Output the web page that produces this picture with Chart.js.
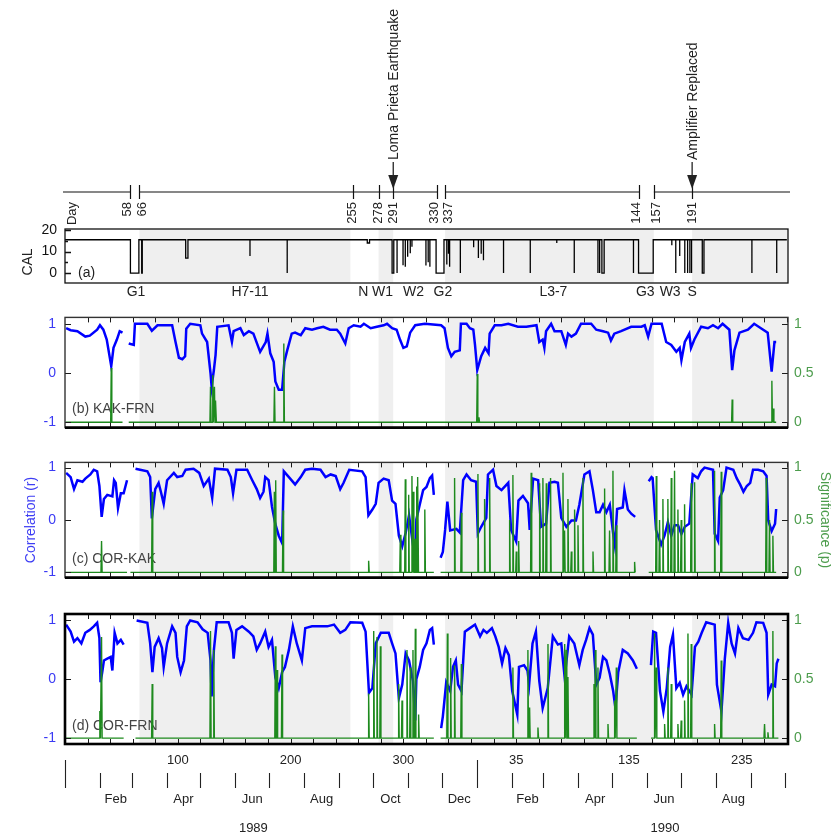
<!DOCTYPE html>
<html>
<head>
<meta charset="utf-8">
<script src="https://cdn.jsdelivr.net/npm/chart.js@4.4.1/dist/chart.umd.min.js"></script>
<style>
  body { margin: 0; background: #fff; }
  #wrap { position: relative; width: 831px; height: 836px; overflow: hidden; background: #fff; }
  canvas { position: absolute; left: 0; }
</style>
</head>
<body>
<div id="wrap">
  <canvas id="calChart" width="831" height="300" style="top:0px"></canvas>
  <canvas id="kakFrn" width="831" height="145" style="top:300px"></canvas>
  <canvas id="corKak" width="831" height="150" style="top:445px"></canvas>
  <canvas id="corFrn" width="831" height="241" style="top:595px"></canvas>
</div>
<script>
const FONT = "'Liberation Sans', Arial, Helvetica, sans-serif";

// days counted from 1 Jan 1989 (1990 days are offset by 365)
const lastDay = 641;

// shaded operating periods
const grayBands = [[66, 253], [278, 291], [337, 522], [556, 641]];

// top timeline
const markerDays = [58, 66, 255, 278, 291, 330, 337, 509, 522, 556];
const markerLabels = ['58', '66', '255', '278', '291', '330', '337', '144', '157', '191'];
const timelineBreaks = [[58, 66], [330, 337], [509, 522]];
const events = [[291, 'Loma Prieta Earthquake'], [556, 'Amplifier Replaced']];
const periodLabels = [['G1', 63], ['H7-11', 164], ['N', 264.5], ['W1', 281.5], ['W2', 309], ['G2', 335],
  ['L3-7', 433], ['G3', 514.5], ['W3', 536.5], ['S', 556]];

// (a) CAL: normal level and the dropouts [start, end, value]
const calBase = 15.5;
const calDrops = [[58, 65.5, 0], [68, 68.5, 0], [107, 109, 7], [164, 164, 8], [197, 197, 0], [268, 270, 14],
  [290, 291.5, 0], [294.4, 294.4, 0], [299.7, 299.7, 3.7], [301.7, 301.7, 2.9], [303.8, 303.8, 7.6],
  [306.1, 306.1, 9.2], [307.6, 307.6, 12.2], [320, 320, 3.5], [322, 322, 5], [323.5, 323.5, 3],
  [329, 336, 0], [338.5, 338.5, 4], [340, 340, 9], [341, 341, 3], [350.5, 350.5, 0], [362.3, 362.3, 12],
  [366.5, 366.5, 7], [369, 369, 9], [371, 371, 6], [388.8, 388.8, 0], [412.5, 412.5, 0], [436, 436, 14],
  [451.5, 451.5, 0], [472.5, 472.5, 0], [474, 474, 0], [476, 478, 0], [504, 504, 0], [508.5, 521.5, 0],
  [538, 538, 13], [541.5, 541.5, 0], [545, 545, 8], [549.5, 549.5, 0], [552, 552, 0], [554, 554, 0],
  [555.5, 555.5, 0], [565, 566.5, 0], [609, 609, 0], [631, 631, 0]];

// (b) KAK-FRN
const kakFrnR = [[1,0.91],[5,0.87],[11,0.85],[18,0.74],[22,0.76],[28.5,0.88],[31,0.97],[34,0.88],[37,0.68],[41,0.14],
  [43,0.51],[46,0.68],[48.5,0.85],[51,0.82],[53,null],
  [56.5,0.6],[61,0.57],[62,1.0],[73,1.0],[77,0.86],[82,0.97],[89,0.97],[95,0.97],[98,0.63],[101,0.31],[104,0.28],
  [106.5,0.34],[107.5,0.9],[111,1.0],[120,0.97],[121.5,0.8],[126,0.63],[129,0],[130,-0.28],[132,0.06],[133.5,0.37],
  [135,0.94],[145,0.97],[148,0.63],[149.5,0.85],[155.5,0.91],[158.5,0.77],[163,0.85],[167,0.8],[173,0.43],[178,0.63],
  [179.5,0.8],[182,0.4],[185,0.23],[186.5,-0.17],[189.5,-0.34],[192.5,-0.34],[194.5,0.23],[197,0.46],[201,0.8],
  [204,0.82],[209,0.77],[213,0.91],[219,0.88],[223.5,0.91],[229,0.94],[235,0.88],[241,0.88],[244,0.8],[248.5,0.6],
  [251.5,0.91],[256,0.97],[262,0.94],[265,1.0],[271,0.91],[276.5,0.94],[282.5,0.97],[285.5,1.0],[290,0.91],[294,0.88],
  [297,0.68],[300,0.51],[303,0.54],[306,0.82],[310.5,0.97],[319,1.0],[333.5,0.97],[336.5,0.91],[339.5,0.51],
  [342.5,0.34],[345.5,0.43],[350,0.46],[351,1.0],[356,1.0],[359,0.91],[362,0.88],[363.5,0.57],[365.5,0.06],[369,0.34],
  [372.5,0.51],[375.5,0.4],[376.5,0.8],[381,0.97],[387,0.97],[393,1.0],[401.5,0.94],[409,0.94],[418,0.97],[420.5,0.63],
  [423.5,0.68],[425,0.51],[426.5,0.85],[431,1.0],[434,0.85],[440,0.85],[444,0.57],[446,0.8],[449,0.74],[453,0.8],
  [457.5,1.0],[466.5,1.0],[471,0.88],[477,0.85],[481.5,0.82],[484,0.66],[487,0.8],[493,0.85],[502,0.94],[511,0.94],
  [514,0.97],[517,0.74],[520,1.0],[529,1.0],[533,0.63],[537.5,0.57],[542,0.43],[545,0.51],[546.5,0.26],[549.5,0.63],
  [553.5,0.8],[555,0.51],[558,0.68],[564,0.94],[570,0.91],[574.5,0.97],[579,0.91],[583,1.0],[589,0.88],[591.5,0.06],
  [593.5,0.46],[598,0.82],[605.5,0.88],[611,1.0],[617,0.91],[623,0.82],[626.5,0.03],[629,0.63],[630.5,0.63]];
const kakFrnRuns = [[0.5, 51], [56.5, 630.5]];
const kakFrnP = [[41,0.55],[129,0.36],[131,0.48],[132.5,0.36],[133.7,0.22],[185.7,0.36],[194,0.8],[365.5,0.49],
  [367,0.05],[591.5,0.23],[626.7,0.42],[628,0.14]];

// (c) COR-KAK
const corKakR = [[1,0.9],[5,0.82],[8,0.59],[11,0.76],[15.5,0.73],[18,0.79],[22.5,0.87],[25.5,0.96],[28.5,0.93],
  [30.5,0.65],[32.5,0.06],[34.5,0.4],[37.5,0.48],[42,0.45],[43.5,0.76],[45,0.71],[47,0.23],[49.5,0.51],[52,0.51],
  [55,0.76],[58,null],
  [62.5,0.98],[73,0.93],[75.5,0.82],[77,0.03],[80,0.59],[83,0.71],[85,0.54],[87.5,0.31],[90.5,0.76],[96.5,0.9],
  [99.5,0.82],[104,0.84],[107,0.96],[114,0.98],[119,0.9],[123,0.65],[127.5,0.79],[130.5,0.42],[133,0.98],[144,0.96],
  [147,0.82],[149,0.51],[152,0.96],[161.5,0.96],[166,0.76],[170,0.59],[173,0.42],[176,0.54],[177.5,0.82],[180.5,0.76],
  [183.5,0.25],[186.5,-0.08],[189.5,-0.3],[192.5,-0.44],[194,0.93],[198.5,0.82],[204,0.68],[209,0.82],[213,0.96],
  [219,0.98],[226.5,0.96],[231,0.82],[235.5,0.87],[240,0.84],[244,0.59],[247,0.71],[252,0.96],[263.5,0.93],
  [266.5,0.82],[269,0.09],[272.5,0.2],[275.5,0.31],[278,0.71],[282.5,0.79],[287,0.76],[290,0.37],[293,0.31],
  [296,-0.3],[299,-0.5],[302,-0.25],[305,0.09],[308.5,-0.47],[310.5,-0.72],[311.5,0.01],[314.5,0.29],[317.5,0.57],
  [320.5,0.63],[323.5,0.8],[325.5,0.85],[327,0.48],[330,null],
  [333,-0.72],[335,-0.61],[337,-0.19],[339,0.35],[341.5,-0.2],[347,-0.17],[350,-0.24],[353,0.76],[356,0.87],
  [360,0.76],[364.5,0.73],[366,-0.26],[369,-0.13],[373.5,0.04],[375,0.87],[379.5,0.96],[382.5,0.65],[387,0.57],
  [393,0.71],[395.5,-0.19],[400,-0.41],[402,0.37],[406,0.46],[410.5,0.32],[412,-0.19],[415,0.79],[419.5,0.76],
  [422,-0.13],[426.5,-0.07],[429.5,0.71],[434,0.73],[437,0.71],[440,0.04],[444.5,-0.13],[449,-0.01],[453,-0.01],
  [456,0.29],[460.5,0.87],[465,0.93],[468,0.57],[471,0.15],[474,0.15],[477,0.29],[480,0.15],[483,0.29],[486,-0.26],
  [487.5,-0.48],[489.5,0.21],[494.5,0.24],[496,0.57],[499,0.2],[502,0.12],[505.5,0.06],[511,null],
  [517.5,0.74],[520,0.82],[521,0.8],[524,-0.19],[528.5,-0.47],[531.5,-0.3],[534.5,-0.04],[537.5,-0.3],[540.5,-0.1],
  [543.5,-0.1],[546.5,-0.27],[549.5,-0.13],[553.5,-0.07],[556.5,0.87],[561,0.8],[564,0.93],[567,1.0],[574.5,0.96],
  [576,-0.26],[579,-0.4],[580.5,0.43],[583.5,0.57],[586.5,1.0],[592.5,0.96],[595.5,0.8],[598.5,0.68],[601.5,0.54],
  [604.5,0.65],[607.5,0.71],[610,0.96],[614.5,0.96],[619,0.93],[622,0.84],[623.5,-0.01],[626.5,-0.21],[629.5,-0.07],
  [630.5,0.21]];
const corKakRuns = [[0.5, 55], [58, 327], [333, 505.5], [517.5, 630.5]];
const corKakP = [[32.4,0.3],[77.3,0.77],[185.6,0.77],[186.8,0.88],[193.3,0.59],[269.2,0.11],[297.3,0.36],[301.7,0.89],
  [304.7,0.74],[307.6,0.92],[308.8,0.77],[310.6,0.32],[311.8,0.82],[312.9,0.91],[319,0.6],[345.4,0.9],[351.4,0.57],
  [366.1,0.94],[372,0.7],[376.5,0.9],[394.2,0.5],[397.1,0.93],[400.1,0.2],[402.2,0.3],[413.3,0.95],[420.8,0.85],
  [423.7,0.9],[426.7,0.85],[430.5,0.9],[441.5,0.95],[442.9,0.4],[445.9,0.7],[448.9,0.2],[451.8,0.6],[454.8,0.45],
  [459.2,0.9],[468.1,0.2],[478.4,0.8],[482.8,0.4],[485.8,0.97],[488.8,0.45],[505,0.1],[524.2,0.92],[527.1,0.5],
  [530.1,0.7],[534.5,0.7],[537.5,0.9],[540.4,0.97],[543.4,0.6],[546.3,0.5],[549.3,0.65],[555.2,0.85],[558.2,0.86],
  [575.9,0.97],[581.8,0.96],[621.7,0.9],[624.6,0.5],[627.6,0.35]];

// (d) COR-FRN
const corFrnR = [[1,0.93],[5,0.81],[8,0.64],[11,0.7],[14.5,0.61],[18,0.79],[22,0.84],[25.5,0.9],[28.5,0.96],[30.5,0.7],
  [31.5,-0.05],[33,0.12],[34.5,0.32],[37.5,0.35],[40.5,0.38],[42,0.15],[44,0.79],[46.5,0.61],[49.5,0.67],[52,0.59],
  [57,null],
  [63.5,1.0],[73,0.96],[75.5,0.61],[77.5,0.12],[79.5,0.55],[83,0.7],[86,0.53],[87.5,0.21],[90.5,0.61],[95,0.9],
  [98,0.79],[99.5,0.38],[102.5,0.12],[105.5,0.32],[108,0.9],[111,1.0],[117.5,0.97],[122,0.85],[126.5,0.79],[129,0.32],
  [130,-0.29],[132,0.5],[134.5,0.97],[145,0.97],[148,0.79],[149.5,0.35],[152,0.84],[157,0.9],[163,0.81],[167,0.73],
  [170,0.5],[173,0.61],[177.5,0.81],[180.5,0.55],[183.5,0.67],[186.5,0.03],[189.5,-0.15],[192.5,0.12],[195,0.21],
  [198.5,0.5],[202,0.9],[205.5,0.61],[210,0.32],[213,0.87],[219,0.9],[226.5,0.9],[232.5,0.9],[238.5,0.93],[244,0.79],
  [248.5,0.84],[253,0.97],[263.5,0.96],[266.5,0.81],[269.5,-0.23],[272.5,-0.15],[275.5,0.61],[280,0.79],[287,0.79],
  [290,0.61],[293,0.44],[296,-0.32],[299,-0.09],[302,0.44],[305,0.32],[308.5,-0.03],[310.5,-0.7],[311.5,0.0],
  [314.5,0.21],[317.5,0.5],[320.5,0.61],[323.5,0.84],[325.5,0.87],[327,0.59],[330,null],
  [333.5,-0.83],[335,-0.63],[338,-0.05],[341.5,-0.2],[344,0.21],[346.5,0.32],[348.5,-0.09],[351.5,-0.2],[354.5,0.81],
  [359,0.87],[363.5,0.93],[368,0.73],[371,0.84],[374,0.79],[378.5,0.87],[381.5,0.73],[384.5,0.55],[387.5,0.27],
  [390.5,0.53],[393.5,0.41],[396.5,-0.2],[401,-0.6],[402.5,0.21],[407,0.24],[410,0.15],[411.5,-0.09],[414.5,0.61],
  [417.5,0.81],[420.5,-0.03],[423.5,-0.49],[428,-0.15],[432.5,0.73],[437,0.59],[440,0.61],[443,0.03],[447,0.73],
  [451.5,0.61],[456,0.24],[459,0.5],[462,0.67],[465,0.87],[468,0.76],[471,-0.09],[474,0.03],[477,0.38],[480,0.32],
  [483,0.09],[486,-0.2],[488,-0.49],[490.5,0.12],[494.5,0.5],[499,0.44],[503.5,0.32],[507,0.18],[513,null],
  [519.5,0.24],[521.5,0.81],[524,0.79],[527.5,-0.2],[530.5,-0.55],[533.5,-0.15],[536.5,0.55],[539,0.76],[542,-0.15],
  [545,-0.06],[548,-0.26],[551,-0.12],[555.5,-0.26],[558.5,0.55],[561.5,0.64],[564.5,0.79],[568.5,0.97],[576,0.93],
  [578,-0.09],[582,-0.55],[585,0.35],[588,0.96],[591,0.61],[594,0.44],[597,0.87],[601,0.7],[606,0.67],[610,0.79],
  [613,0.97],[619,0.96],[622,0.79],[623.5,-0.26],[626.5,-0.09],[629.5,-0.12],[631,0.27],[632.5,0.35]];
const corFrnRuns = [[0.5, 52], [62.5, 327], [333, 507], [519.5, 632.5]];
const corFrnP = [[30.9,0.23],[32.4,0.86],[77.3,0.46],[129,0.91],[131.9,0.75],[186.5,0.78],[188,0.58],[192.4,0.71],
  [269.2,0.38],[273.7,0.91],[276.6,0.86],[279.6,0.78],[295.8,0.46],[298.8,0.32],[303.2,0.75],[306.1,0.6],[308.5,0.75],
  [310.6,0.93],[313.5,0.2],[339,0.89],[341.9,0.68],[345.4,0.62],[351.4,0.63],[397.1,0.6],[410.4,0.75],[411.9,0.26],
  [419.3,0.09],[428.2,0.8],[443,0.8],[444.4,0.75],[445.9,0.52],[469,0.46],[470.2,0.75],[472.5,0.6],[481.4,0.12],
  [487.3,0.32],[488.8,0.6],[522.7,0.89],[524.2,0.6],[531.6,0.12],[534.5,0.6],[537.5,0.46],[543.4,0.12],[546.3,0.15],
  [549.3,0.32],[552.3,0.89],[555.2,0.8],[575.9,0.12],[581.8,0.66],[620.2,0.12],[623.2,0.05],[627.6,0.91]];

// bottom time axis
const dayTicks = [100, 200, 300, 400, 500, 600];
const dayTickLabels = ['100', '200', '300', '35', '135', '235'];
const monthStarts = [0, 31, 59, 90, 120, 151, 181, 212, 243, 273, 304, 334, 365,
  396, 424, 455, 485, 516, 546, 577, 608, 638];
const yearStarts = [0, 365];
const monthLabels = ['Feb', 'Apr', 'Jun', 'Aug', 'Oct', 'Dec', 'Feb', 'Apr', 'Jun', 'Aug'];
const yearLabels = [['1989', 167], ['1990', 532]];

Chart.defaults.font.family = FONT;
Chart.defaults.font.size = 13;
Chart.defaults.animation = false;
Chart.defaults.plugins.legend.display = false;
Chart.defaults.plugins.tooltip.enabled = false;

// --- helpers to turn the value lists into line points ---
function seriesPoints(list) {
  return list.map(([d, v]) => ({ x: d, y: v }));
}

function spikePoints(runs, spikes) {
  const pts = [];
  runs.forEach(([s, e]) => {
    pts.push({ x: s, y: 0 });
    spikes.filter(k => k[0] > s && k[0] < e).forEach(([d, v]) => {
      pts.push({ x: d - 0.5, y: 0 }, { x: d, y: v }, { x: d + 0.5, y: 0 });
    });
    pts.push({ x: e, y: 0 }, { x: e, y: null });
  });
  return pts;
}

function calPoints() {
  const pts = [{ x: 0, y: calBase }];
  calDrops.forEach(([s, e, v]) => {
    pts.push({ x: s, y: calBase }, { x: s, y: v }, { x: e, y: v }, { x: e, y: calBase });
  });
  pts.push({ x: lastDay - 1, y: calBase });
  return pts;
}

function vText(ctx, text, x, y, angle, align, baseline) {
  ctx.save();
  ctx.translate(x, y);
  ctx.rotate(angle);
  ctx.textAlign = align;
  ctx.textBaseline = baseline;
  ctx.fillText(text, 0, 0);
  ctx.restore();
}

function fixedTicks(values) {
  return s => { s.ticks = values.map(v => ({ value: v })); };
}

// light grey background bands in every plot area
Chart.register({
  id: 'bands',
  beforeDatasetsDraw(chart) {
    const { ctx, chartArea: a, scales: { x } } = chart;
    ctx.save();
    ctx.fillStyle = '#efefef';
    grayBands.forEach(([s, e]) => {
      const x0 = Math.max(a.left, x.getPixelForValue(s));
      const x1 = Math.min(a.right, x.getPixelForValue(e));
      ctx.fillRect(x0, a.top, x1 - x0, a.bottom - a.top);
    });
    ctx.restore();
  }
});

const xScale = { type: 'linear', min: 0, max: lastDay, display: false };

// ---------- (a) CAL with the event timeline above it ----------
new Chart(document.getElementById('calChart'), {
  type: 'line',
  data: {
    datasets: [{
      data: calPoints(),
      borderColor: '#000',
      borderWidth: 1.3,
      pointRadius: 0,
      tension: 0
    }]
  },
  options: {
    responsive: false,
    layout: { padding: { top: 229, bottom: 17, left: 0, right: 43 } },
    scales: {
      x: xScale,
      y: {
        min: -4.6, max: 20.5,
        afterBuildTicks: fixedTicks([0, 10, 20]),
        afterFit: s => { s.width = 65; },
        grid: { display: false, drawTicks: false },
        border: { display: false },
        ticks: { color: '#111', padding: 8, font: { size: 14 }, callback: v => String(v) }
      }
    }
  },
  plugins: [{
    id: 'calDecor',
    afterDatasetsDraw(chart) {
      const { ctx, chartArea: a, scales: { x, y } } = chart;
      const px = d => x.getPixelForValue(d);
      ctx.save();
      ctx.strokeStyle = '#111';
      ctx.lineWidth = 1.3;
      ctx.strokeRect(a.left, a.top, a.right - a.left, a.bottom - a.top);

      ctx.beginPath();
      [0, 5, 10, 15, 20].forEach(v => {
        const py = Math.round(y.getPixelForValue(v)) + 0.5;
        ctx.moveTo(a.left, py);
        ctx.lineTo(a.left + (v % 10 === 0 ? 6 : 3), py);
      });
      ctx.stroke();

      // timeline with axis breaks
      const tlY = 192;
      ctx.lineWidth = 1.2;
      ctx.beginPath();
      let from = a.left - 2;
      timelineBreaks.forEach(([s, e]) => {
        ctx.moveTo(from, tlY); ctx.lineTo(px(s), tlY);
        from = px(e);
      });
      ctx.moveTo(from, tlY); ctx.lineTo(a.right + 2, tlY);
      markerDays.forEach(d => {
        ctx.moveTo(Math.round(px(d)) + 0.5, tlY - 7);
        ctx.lineTo(Math.round(px(d)) + 0.5, tlY + 7);
      });
      ctx.stroke();

      ctx.fillStyle = '#222';
      ctx.font = '13px ' + FONT;
      markerDays.forEach((d, i) => {
        let off = 0;
        timelineBreaks.forEach(([s, e]) => { if (d === s) off = -3; if (d === e) off = 3; });
        vText(ctx, markerLabels[i], px(d) + off, 202, -Math.PI / 2, 'right', 'middle');
      });
      vText(ctx, 'Day', 72, 202, -Math.PI / 2, 'right', 'middle');

      // event arrows
      ctx.font = '14px ' + FONT;
      events.forEach(([d, label]) => {
        const ex = px(d);
        ctx.beginPath();
        ctx.moveTo(ex, 162); ctx.lineTo(ex, 176);
        ctx.stroke();
        ctx.beginPath();
        ctx.moveTo(ex - 5, 175); ctx.lineTo(ex + 5, 175); ctx.lineTo(ex, 189);
        ctx.closePath();
        ctx.fill();
        vText(ctx, label, ex + 1, 160, -Math.PI / 2, 'left', 'middle');
      });

      // period codes under the CAL panel
      ctx.fillStyle = '#222';
      periodLabels.forEach(([t, d]) => {
        ctx.textAlign = 'center';
        ctx.textBaseline = 'middle';
        ctx.fillText(t, px(d), 292);
      });

      ctx.textAlign = 'left';
      ctx.fillText('(a)', a.left + 13, y.getPixelForValue(0));
      vText(ctx, 'CAL', 32, 262, -Math.PI / 2, 'center', 'alphabetic');
      ctx.restore();
    }
  }]
});

// ---------- correlation panels (left axis r, right axis p) ----------
function panel(id, tag, rList, runs, spikes, rMin, rMax, padTop, padBottom, heavy, extra) {
  return new Chart(document.getElementById(id), {
    type: 'line',
    data: {
      datasets: [
        {
          data: spikePoints(runs, spikes),
          yAxisID: 'yP',
          borderColor: '#1e8a1e',
          borderWidth: 1.4,
          pointRadius: 0,
          tension: 0,
          order: 0
        },
        {
          data: seriesPoints(rList),
          yAxisID: 'yR',
          borderColor: '#0000ff',
          borderWidth: 2.5,
          pointRadius: 0,
          tension: 0,
          order: 1
        }
      ]
    },
    options: {
      responsive: false,
      spanGaps: false,
      layout: { padding: { top: padTop, bottom: padBottom, left: 0, right: 0 } },
      scales: {
        x: xScale,
        yR: {
          axis: 'y',
          position: 'left',
          min: rMin, max: rMax,
          afterBuildTicks: fixedTicks([-1, 0, 1]),
          afterFit: s => { s.width = 65; },
          grid: { display: false, drawTicks: false },
          border: { display: false },
          ticks: { color: '#3a3af4', padding: 9, font: { size: 14 }, callback: v => String(v) }
        },
        yP: {
          axis: 'y',
          position: 'right',
          min: (rMin + 1) / 2, max: (rMax + 1) / 2,
          afterBuildTicks: fixedTicks([0, 0.5, 1]),
          afterFit: s => { s.width = 43; },
          grid: { display: false, drawTicks: false },
          border: { display: false },
          ticks: { color: '#4c9c4c', padding: 6, font: { size: 14 }, callback: v => String(v) }
        }
      }
    },
    plugins: [{
      id: 'panelDecor',
      beforeDatasetsDraw(chart) {
        const { ctx, chartArea: a } = chart;
        ctx.save();
        ctx.fillStyle = '#444';
        ctx.font = '14px ' + FONT;
        ctx.textBaseline = 'middle';
        ctx.fillText(tag, a.left + 7, a.bottom - 18);
        ctx.restore();
      },
      afterDatasetsDraw(chart) {
        const { ctx, chartArea: a, scales: { x, yR, yP } } = chart;
        ctx.save();
        ctx.strokeStyle = '#1a1a1a';
        ctx.lineWidth = 1;
        ctx.beginPath();
        for (let d = 20; d < lastDay; d += 20) {
          const tx = Math.round(x.getPixelForValue(d)) + 0.5;
          ctx.moveTo(tx, a.top); ctx.lineTo(tx, a.top + 5);
          ctx.moveTo(tx, a.bottom); ctx.lineTo(tx, a.bottom - 5);
        }
        [-1, 0, 1].forEach(v => {
          const ty = Math.round(yR.getPixelForValue(v)) + 0.5;
          ctx.moveTo(a.left, ty); ctx.lineTo(a.left + 6, ty);
        });
        [0, 0.5, 1].forEach(v => {
          const ty = Math.round(yP.getPixelForValue(v)) + 0.5;
          ctx.moveTo(a.right, ty); ctx.lineTo(a.right - 6, ty);
        });
        ctx.stroke();

        ctx.lineWidth = heavy ? 2.6 : 1.4;
        ctx.strokeStyle = heavy ? '#000' : '#333';
        ctx.strokeRect(a.left, a.top, a.right - a.left, a.bottom - a.top);
        if (!heavy) {
          ctx.lineWidth = 2.6;
          ctx.strokeStyle = '#000';
          ctx.beginPath();
          ctx.moveTo(a.left, a.bottom); ctx.lineTo(a.right, a.bottom);
          ctx.stroke();
        }
        ctx.restore();
        if (extra) extra(chart);
      }
    }]
  });
}

panel('kakFrn', '(b) KAK-FRN', kakFrnR, kakFrnRuns, kakFrnP, -1.11, 1.13, 4, 9, false);

panel('corKak', '(c) COR-KAK', corKakR, corKakRuns, corKakP, -1.1, 1.1, 12, 7, false, chart => {
  const { ctx, chartArea: a } = chart;
  const mid = (a.top + a.bottom) / 2;
  ctx.save();
  ctx.font = '14px ' + FONT;
  ctx.fillStyle = '#3d3df4';
  vText(ctx, 'Correlation (r)', 35, mid, -Math.PI / 2, 'center', 'alphabetic');
  ctx.fillStyle = '#4c9c4c';
  vText(ctx, 'Significance (p)', 821, mid, Math.PI / 2, 'center', 'alphabetic');
  ctx.restore();
});

panel('corFrn', '(d) COR-FRN', corFrnR, corFrnRuns, corFrnP, -1.1, 1.11, 19, 92, true, chart => {
  const { ctx, chartArea: a, scales: { x } } = chart;
  const px = d => x.getPixelForValue(d);
  const b = a.bottom;
  ctx.save();
  ctx.fillStyle = '#222';
  ctx.strokeStyle = '#222';
  ctx.font = '13px ' + FONT;
  ctx.textAlign = 'center';
  ctx.textBaseline = 'middle';
  dayTicks.forEach((d, i) => ctx.fillText(dayTickLabels[i], px(d), b + 16));

  ctx.lineWidth = 1.1;
  ctx.beginPath();
  monthStarts.forEach(d => {
    const tx = Math.round(px(d)) + 0.5;
    const top = yearStarts.includes(d) ? b + 16 : b + 29;
    ctx.moveTo(tx, top); ctx.lineTo(tx, b + 44);
  });
  ctx.stroke();

  monthLabels.forEach((m, i) => {
    const d0 = monthStarts[2 * i + 1], d1 = monthStarts[2 * i + 2];
    ctx.fillText(m, (px(d0) + px(d1)) / 2, b + 55);
  });
  yearLabels.forEach(([t, d]) => ctx.fillText(t, px(d), b + 84));
  ctx.restore();
});
</script>
</body>
</html>
